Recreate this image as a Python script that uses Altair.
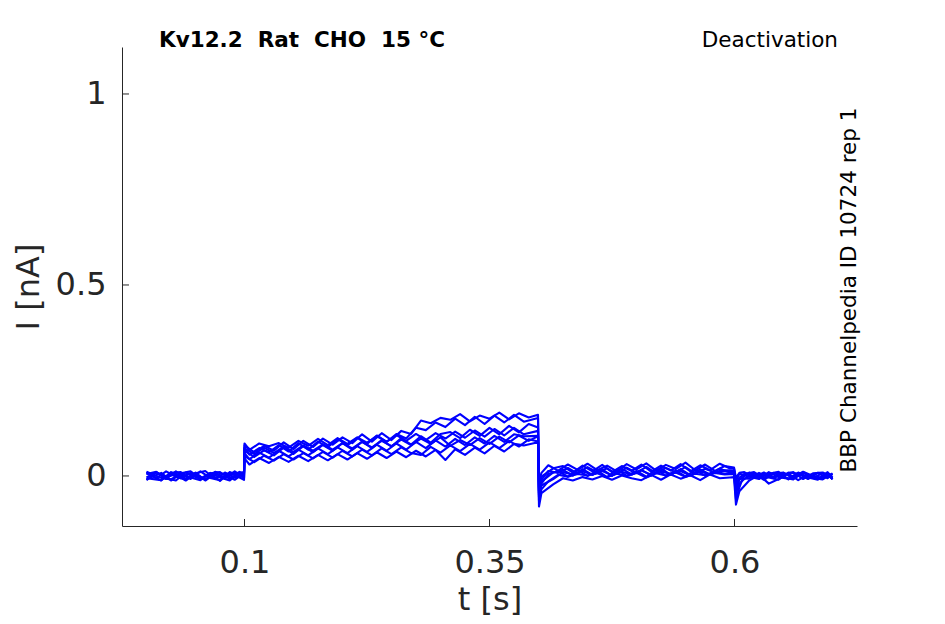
import altair as alt
import pandas as pd

# ---- time bases (s), four segments of the protocol; two sampling grids ----
T_PRE = [0.000, 0.010, 0.020, 0.030, 0.040, 0.050, 0.060, 0.070, 0.080, 0.090, 0.0995]
T_STEP = [0.100, 0.110, 0.120, 0.130, 0.140, 0.150, 0.160, 0.170, 0.180, 0.190,
          0.200, 0.210, 0.220, 0.230, 0.240, 0.250, 0.260, 0.270, 0.280, 0.290,
          0.300, 0.310, 0.320, 0.330, 0.340, 0.350, 0.360, 0.370, 0.380, 0.390, 0.3995]
T_POST = [0.4005, 0.403, 0.410, 0.420, 0.430, 0.440, 0.450, 0.460, 0.470, 0.480,
          0.490, 0.500, 0.510, 0.520, 0.530, 0.540, 0.550, 0.560, 0.570, 0.580, 0.590]
T_TAIL = [0.5995, 0.6015, 0.605, 0.610, 0.620, 0.630, 0.640, 0.650, 0.660, 0.670,
          0.680, 0.690, 0.700]
T_A = T_PRE + T_STEP + T_POST + T_TAIL

TB_PRE = [0.000, 0.015, 0.025, 0.035, 0.045, 0.055, 0.065, 0.075, 0.085, 0.095, 0.0995]
TB_STEP = [0.100, 0.105, 0.115, 0.125, 0.135, 0.145, 0.155, 0.165, 0.175, 0.185,
           0.195, 0.205, 0.215, 0.225, 0.235, 0.245, 0.255, 0.265, 0.275, 0.285,
           0.295, 0.305, 0.315, 0.325, 0.335, 0.345, 0.355, 0.365, 0.375, 0.385, 0.3995]
TB_POST = [0.4005, 0.403, 0.415, 0.425, 0.435, 0.445, 0.455, 0.465, 0.475, 0.485,
           0.495, 0.505, 0.515, 0.525, 0.535, 0.545, 0.555, 0.565, 0.575, 0.585, 0.595]
TB_TAIL = [0.5995, 0.6015, 0.605, 0.615, 0.625, 0.635, 0.645, 0.655, 0.665, 0.675,
           0.685, 0.695, 0.700]
T_B = TB_PRE + TB_STEP + TB_POST + TB_TAIL

# ---- current traces (nA) ----
trace1 = [0.010, -0.006, 0.012, -0.002, -0.010, 0.007, 0.013, -0.008, 0.009, -0.004, 0.006,
          0.080, 0.062, 0.079, 0.066, 0.088, 0.070, 0.092, 0.076, 0.098, 0.082, 0.101, 0.086, 0.109,
          0.090, 0.112, 0.094, 0.118, 0.110, 0.145, 0.138, 0.152, 0.147, 0.162, 0.143, 0.158, 0.150,
          0.166, 0.148, 0.164, 0.153, 0.160,
          -0.015, 0.008, 0.028, 0.014, 0.030, 0.016, 0.032, 0.015, 0.027, 0.012, 0.031, 0.017, 0.033,
          0.014, 0.029, 0.018, 0.035, 0.015, 0.030, 0.013, 0.026,
          0.022, -0.005, 0.008, 0.010, -0.004, 0.009, -0.006, 0.008, -0.003, 0.011, 0.000, -0.005, 0.006]
trace2 = [-0.009, 0.008, -0.012, 0.006, -0.004, -0.011, 0.007, 0.010, -0.008, 0.011, -0.005,
          0.074, 0.056, 0.073, 0.062, 0.081, 0.064, 0.086, 0.069, 0.090, 0.075, 0.097, 0.080, 0.100,
          0.084, 0.106, 0.089, 0.110, 0.098, 0.126, 0.120, 0.140, 0.128, 0.150, 0.133, 0.155, 0.136,
          0.158, 0.140, 0.160, 0.142, 0.152,
          -0.030, -0.002, 0.020, 0.026, 0.009, 0.027, 0.012, 0.029, 0.010, 0.026, 0.013, 0.030, 0.011,
          0.027, 0.014, 0.031, 0.012, 0.028, 0.015, 0.032, 0.020,
          0.020, -0.012, 0.006, -0.002, -0.008, 0.010, -0.003, -0.007, 0.009, -0.004, 0.008, -0.006, 0.005]
trace3 = [0.005, 0.011, -0.006, -0.012, 0.009, -0.003, -0.009, 0.011, 0.004, -0.010, 0.008,
          0.066, 0.050, 0.067, 0.054, 0.074, 0.058, 0.078, 0.062, 0.081, 0.066, 0.086, 0.069, 0.090,
          0.073, 0.094, 0.077, 0.099, 0.082, 0.104, 0.087, 0.110, 0.115, 0.099, 0.121, 0.105, 0.126,
          0.109, 0.131, 0.114, 0.136, 0.127,
          -0.040, -0.010, 0.013, 0.008, 0.021, 0.006, 0.023, 0.009, 0.020, 0.005, 0.022, 0.008, 0.024,
          0.007, 0.021, 0.010, 0.023, 0.006, 0.019, 0.009, 0.015,
          0.015, -0.020, -0.004, 0.005, 0.010, -0.006, 0.008, -0.004, -0.009, 0.010, -0.005, 0.007, -0.006]
trace4 = [-0.006, -0.011, 0.008, 0.010, -0.008, 0.012, -0.005, -0.011, 0.009, 0.006, -0.009,
          0.085, 0.068, 0.085, 0.078, 0.086, 0.074, 0.092, 0.079, 0.097, 0.081, 0.099, 0.084, 0.101,
          0.087, 0.104, 0.090, 0.107, 0.092, 0.110, 0.094, 0.112, 0.098, 0.116, 0.100, 0.119, 0.103,
          0.123, 0.106, 0.126, 0.109, 0.118,
          -0.045, -0.015, 0.009, 0.016, 0.001, 0.018, 0.003, 0.017, 0.000, 0.019, 0.004, 0.016, 0.001,
          0.020, 0.003, 0.018, 0.002, 0.017, 0.004, 0.019, 0.010,
          0.012, -0.025, -0.006, -0.007, 0.008, -0.004, -0.010, 0.009, 0.006, -0.008, 0.008, 0.005, -0.009]
trace5 = [0.011, -0.005, -0.009, 0.007, 0.012, -0.007, 0.008, -0.004, -0.012, 0.009, 0.004,
          0.060, 0.044, 0.061, 0.048, 0.066, 0.051, 0.069, 0.054, 0.072, 0.057, 0.075, 0.060, 0.078,
          0.063, 0.082, 0.066, 0.085, 0.069, 0.089, 0.073, 0.093, 0.077, 0.097, 0.081, 0.101, 0.085,
          0.105, 0.089, 0.109, 0.104, 0.105,
          -0.055, -0.025, -0.008, 0.010, 0.004, 0.012, 0.003, 0.013, 0.002, 0.011, 0.004, 0.014, 0.003,
          0.012, 0.005, 0.013, 0.001, 0.012, 0.004, 0.013, 0.011,
          0.010, -0.035, -0.010, 0.009, -0.006, 0.006, 0.011, -0.009, 0.007, -0.004, -0.010, 0.010, -0.004]
trace6 = [-0.011, 0.009, -0.004, 0.006, -0.012, 0.007, -0.010, 0.008, -0.004, 0.007, 0.010,
          0.052, 0.036, 0.053, 0.040, 0.057, 0.043, 0.060, 0.046, 0.063, 0.048, 0.066, 0.051, 0.069,
          0.054, 0.072, 0.057, 0.075, 0.060, 0.055, 0.076, 0.061, 0.080, 0.065, 0.084, 0.069, 0.088,
          0.073, 0.092, 0.077, 0.096, 0.090,
          -0.065, -0.035, -0.014, 0.003, -0.002, 0.005, 0.001, 0.007, -0.003, 0.006, 0.000, 0.008, -0.004,
          0.007, 0.001, 0.009, -0.002, 0.006, 0.002, 0.008, 0.004,
          0.005, -0.045, -0.020, -0.008, 0.007, -0.010, 0.006, 0.009, -0.007, 0.008, -0.005, -0.009, 0.007]
trace7 = [0.007, -0.012, 0.010, -0.006, 0.008, -0.009, 0.006, -0.013, 0.010, -0.004, -0.010,
          0.046, 0.030, 0.047, 0.034, 0.050, 0.037, 0.053, 0.039, 0.055, 0.041, 0.057, 0.043, 0.060,
          0.045, 0.062, 0.047, 0.064, 0.049, 0.066, 0.051, 0.068, 0.042, 0.070, 0.055, 0.074, 0.059,
          0.079, 0.064, 0.084, 0.080, 0.088,
          -0.080, -0.045, -0.022, -0.006, -0.012, -0.003, -0.009, 0.000, -0.010, 0.001, -0.006, -0.011,
          0.003, -0.010, 0.004, -0.007, 0.002, -0.011, 0.004, -0.006, -0.004,
          -0.003, -0.075, -0.040, -0.012, 0.003, -0.020, -0.008, 0.006, -0.011, 0.004, -0.008, 0.007, -0.009]
trace8 = [-0.004, 0.010, -0.008, 0.012, -0.007, 0.009, -0.012, 0.007, -0.007, 0.012, -0.004,
          0.072, 0.057, 0.074, 0.060, 0.077, 0.063, 0.080, 0.066, 0.083, 0.069, 0.086, 0.072, 0.089,
          0.075, 0.092, 0.078, 0.095, 0.081, 0.098, 0.084, 0.101, 0.079, 0.094, 0.081, 0.099, 0.084,
          0.103, 0.088, 0.106, 0.092, 0.104,
          -0.050, -0.020, 0.005, 0.013, -0.002, 0.015, 0.000, 0.014, -0.003, 0.016, 0.001, 0.013, -0.002,
          0.017, 0.000, 0.014, -0.001, 0.015, 0.001, 0.013, 0.005,
          0.008, -0.060, -0.030, 0.005, -0.001, 0.003, -0.002, 0.004, 0.010, -0.008, 0.007, 0.009, -0.006]

# each trace with the sampling grid it was read on
TRACE_LIST = [(trace1, T_A), (trace2, T_B), (trace3, T_A), (trace4, T_B),
              (trace5, T_B), (trace6, T_A), (trace7, T_B), (trace8, T_A)]

X_TICKS = [0.1, 0.35, 0.6]
Y_TICKS = [0, 0.5, 1]
XDOM = [-0.025, 0.725]
YDOM = [-0.131, 1.123]

TITLE = "Kv12.2\u00a0 Rat\u00a0 CHO\u00a0 15 °C"
RIGHT_LABEL = "Deactivation"
SIDE_LABEL = "BBP Channelpedia ID 10724 rep 1"

W, H = 735, 479

rows = []
for k, (tr, tt) in enumerate(TRACE_LIST):
    n = min(len(tt), len(tr))
    for i in range(n):
        rows.append({"t": tt[i], "I": tr[i], "trace": k})
df = pd.DataFrame(rows)

FONT = "DejaVu Sans"
AX = "#262626"

xs = alt.Scale(domain=XDOM, nice=False, zero=False)
ys = alt.Scale(domain=YDOM, nice=False, zero=False)

lines = alt.Chart(df).mark_line(color="#0000ff", strokeWidth=2.1, strokeJoin="round").encode(
    x=alt.X("t:Q", scale=xs,
            axis=alt.Axis(values=X_TICKS, title="t [s]", format="~g", ticks=False,
                          labelPadding=21, titlePadding=6, labelFlush=False)),
    y=alt.Y("I:Q", scale=ys,
            axis=alt.Axis(values=Y_TICKS, title="I [nA]", format="~g", ticks=False,
                          labelPadding=16, titlePadding=10, labelFlush=False)),
    detail="trace:N",
    order="t:Q",
)

tick_len_y = (YDOM[1] - YDOM[0]) * 7 / H
tick_len_x = (XDOM[1] - XDOM[0]) * 7 / W

xt = alt.Chart(pd.DataFrame({"t": X_TICKS})).mark_rule(color=AX, strokeWidth=1).encode(
    x="t:Q", y=alt.datum(YDOM[0]), y2=alt.datum(YDOM[0] + tick_len_y))
yt = alt.Chart(pd.DataFrame({"I": Y_TICKS})).mark_rule(color=AX, strokeWidth=1).encode(
    y="I:Q", x=alt.datum(XDOM[0]), x2=alt.datum(XDOM[0] + tick_len_x))

title_txt = alt.Chart(pd.DataFrame({"s": [TITLE]})).mark_text(
    align="left", baseline="alphabetic", font=FONT, fontSize=21.5, fontWeight="bold", color="black"
).encode(x=alt.value(37), y=alt.value(0), text="s:N")

right_txt = alt.Chart(pd.DataFrame({"s": [RIGHT_LABEL]})).mark_text(
    align="right", baseline="alphabetic", font=FONT, fontSize=21.5, color="black"
).encode(x=alt.value(716), y=alt.value(0), text="s:N")

side_txt = alt.Chart(pd.DataFrame({"s": [SIDE_LABEL]})).mark_text(
    align="center", baseline="middle", angle=270, font=FONT, fontSize=21.5, color="black"
).encode(x=alt.value(728), y=alt.value(243), text="s:N")

chart = alt.layer(lines, xt, yt, title_txt, right_txt, side_txt).properties(
    width=W, height=H,
    autosize=alt.AutoSizeParams(type="none"),
    padding={"left": 114, "top": 39, "right": 80, "bottom": 90},
    background="white",
).configure_view(stroke=None).configure_axis(
    grid=False, domainColor=AX, domainWidth=1,
    labelFont=FONT, labelFontSize=32, labelColor=AX,
    titleFont=FONT, titleFontSize=32, titleFontWeight="normal", titleColor=AX,
)

chart.save("out.html", embed_options={"renderer": "svg", "actions": False})
